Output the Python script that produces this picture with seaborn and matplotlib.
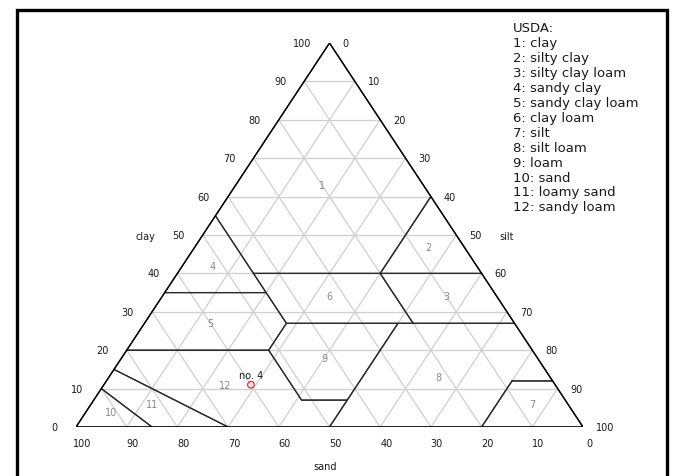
import matplotlib
matplotlib.use("Agg")
import matplotlib.pyplot as plt
from matplotlib.patches import Rectangle
import numpy as np
import pandas as pd
import seaborn as sns

sns.set_theme(style="white")
plt.rcParams["font.family"] = ["DejaVu Sans"]

# USDA texture classes, vertices as (sand, silt, clay) in percent
class_names = ["clay", "silty clay", "silty clay loam", "sandy clay", "sandy clay loam",
               "clay loam", "silt", "silt loam", "loam", "sand", "loamy sand", "sandy loam"]
class_polygons = [
    [(0, 40, 60), (0, 0, 100), (45, 0, 55), (45, 15, 40), (20, 40, 40)],
    [(0, 40, 60), (20, 40, 40), (0, 60, 40)],
    [(0, 60, 40), (20, 40, 40), (20, 53, 27), (0, 73, 27)],
    [(45, 0, 55), (65, 0, 35), (45, 20, 35), (45, 15, 40)],
    [(65, 0, 35), (80, 0, 20), (52, 28, 20), (45, 28, 27), (45, 20, 35)],
    [(45, 15, 40), (45, 28, 27), (20, 53, 27), (20, 40, 40)],
    [(8, 80, 12), (0, 88, 12), (0, 100, 0), (20, 80, 0)],
    [(50, 50, 0), (20, 80, 0), (8, 80, 12), (0, 88, 12), (0, 73, 27), (23, 50, 27), (43, 50, 7)],
    [(43, 50, 7), (52, 41, 7), (52, 28, 20), (45, 28, 27), (23, 50, 27)],
    [(85, 15, 0), (100, 0, 0), (90, 0, 10)],
    [(70, 30, 0), (85, 15, 0), (90, 0, 10), (85, 0, 15)],
    [(80, 0, 20), (52, 28, 20), (52, 41, 7), (43, 50, 7), (50, 50, 0), (70, 30, 0), (85, 0, 15)],
]
# class number positions (sand, silt, clay)
label_sand = [20, 7, 10, 52, 60, 33, 7, 22, 42, 91, 82, 65]
label_silt = [17, 46, 56, 6, 13, 33, 87, 65, 40, 5, 12, 24]
label_clay = [63, 47, 34, 42, 27, 34, 6, 13, 18, 4, 6, 11]

# sample
sample_name = "no. 4"
sample_sand, sample_silt, sample_clay = 60, 29, 11

tick_values = list(range(0, 101, 10))


def to_xy(sand, silt, clay):
    """Ternary composition (percent) -> plot coordinates (sand at left, silt at right, clay on top)."""
    total = sand + silt + clay
    s = silt / total
    c = clay / total
    return s + c / 2, c


fig = plt.figure(figsize=(6.73, 4.77), dpi=100)
W, H = 673, 477
# axes placed so the triangle base runs 76..583 px and apex sits at 44 px
ax = fig.add_axes([76 / W, (H - 428) / H, 507 / W, 384 / H])
ax.set_xlim(0, 1)
ax.set_ylim(0, 1)
ax.axis("off")
px = 1 / 507   # one pixel in x units
py = 1 / 384   # one pixel in y units

# grid lines every 10 %
rows = []
seg = 0
for v in range(10, 100, 10):
    for (a, b) in [
        (to_xy(100 - v, 0, v), to_xy(0, 100 - v, v)),      # constant clay
        (to_xy(v, 100 - v, 0), to_xy(v, 0, 100 - v)),      # constant sand
        (to_xy(0, v, 100 - v), to_xy(100 - v, v, 0)),      # constant silt
    ]:
        rows.append({"x": a[0], "y": a[1], "seg": seg})
        rows.append({"x": b[0], "y": b[1], "seg": seg})
        seg += 1
grid_df = pd.DataFrame(rows)
sns.lineplot(data=grid_df, x="x", y="y", units="seg", estimator=None, sort=False,
             color="#cfcfcf", linewidth=0.9, ax=ax, legend=False)

# class boundaries
rows = []
for k, poly in enumerate(class_polygons):
    pts = poly + [poly[0]]
    for i, p in enumerate(pts):
        x, y = to_xy(*p)
        rows.append({"x": x, "y": y, "cls": k, "order": i})
bound_df = pd.DataFrame(rows)
sns.lineplot(data=bound_df, x="x", y="y", units="cls", estimator=None, sort=False,
             color="#2b2b2b", linewidth=0.9, ax=ax, legend=False)

# outer triangle
tri = [to_xy(100, 0, 0), to_xy(0, 100, 0), to_xy(0, 0, 100), to_xy(100, 0, 0)]
ax.plot([p[0] for p in tri], [p[1] for p in tri], color="black", linewidth=1.0)

# class numbers
for k in range(len(class_names)):
    x, y = to_xy(label_sand[k], label_silt[k], label_clay[k])
    ax.text(x, y, str(k + 1), ha="center", va="center", fontsize=7, color="#8a8a8a")

# tick labels
tick_kw = dict(fontsize=7, color="#1a1a1a", clip_on=False)
for v in tick_values:
    # clay on the left edge
    x, y = to_xy(100 - v, 0, v)
    ax.text(x - 18 * px, y, str(v), ha="right", va="center", **tick_kw)
    # silt on the right edge
    x, y = to_xy(0, v, 100 - v)
    ax.text(x + 13 * px, y, str(v), ha="left", va="center", **tick_kw)
    # sand along the base
    x, y = to_xy(v, 100 - v, 0)
    ax.text(x + 6 * px, -16 * py, str(v), ha="center", va="center", **tick_kw)

ax.text((145 - 76) * px, (428 - 237) * py, "clay", ha="center", va="center", **tick_kw)
ax.text((507 - 76) * px, (428 - 237) * py, "silt", ha="center", va="center", **tick_kw)
ax.text((325 - 76) * px, (428 - 467) * py, "sand", ha="center", va="center", **tick_kw)

# sample point
sx, sy = to_xy(sample_sand, sample_silt, sample_clay)
sns.scatterplot(x=[sx], y=[sy], ax=ax, s=22, facecolor="none", edgecolor="#e8262a",
                linewidth=0.9, zorder=5, legend=False)
ax.annotate(sample_name, (sx, sy), xytext=(0, 7), textcoords="offset points",
            ha="center", va="center", fontsize=7, color="#1a1a1a")

# legend text
legend_lines = ["USDA:"] + [f"{i + 1}: {n}" for i, n in enumerate(class_names)]
for i, line in enumerate(legend_lines):
    fig.text(513 / W, 1 - (29 + 14.9 * i) / H, line, ha="left", va="center",
             fontsize=9.5, color="#1a1a1a")

# page frame
fig.add_artist(Rectangle((16.5 / W, -0.05), (666.5 - 16.5) / W, 1.05 - 10.5 / H,
                         transform=fig.transFigure, fill=False, edgecolor="black",
                         linewidth=2.4))

fig.savefig("out.png", dpi=100, facecolor="white")
